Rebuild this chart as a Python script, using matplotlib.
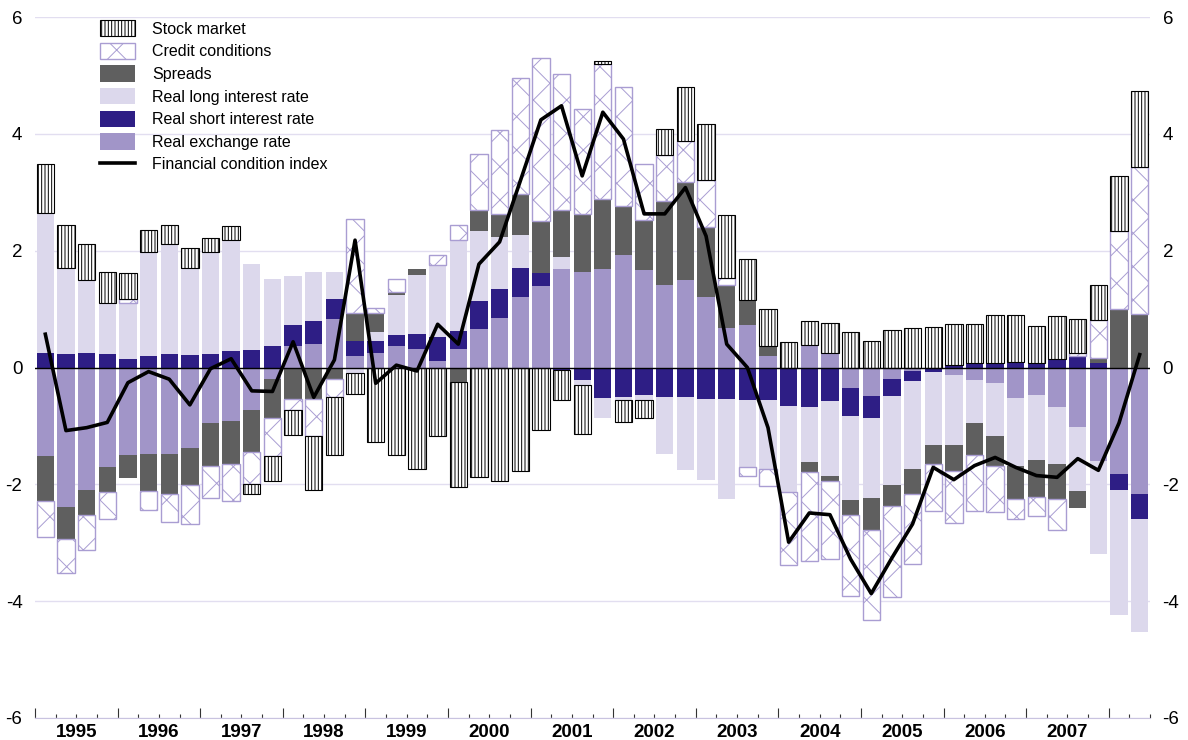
import matplotlib
matplotlib.use("Agg")
import matplotlib.pyplot as plt
import matplotlib.transforms as mtransforms
from matplotlib.patches import Patch
from matplotlib.lines import Line2D
import numpy as np

# Data: quarterly, 1995Q1 - 2008Q2
#------------------------------------------------------------------------
years = [str(y) for y in range(1995, 2008)]

exch = [-1.51, -2.38, -2.09, -1.71, -1.50, -1.48, -1.48, -1.37, -0.95, -0.91,
        -0.72, -0.20, 0.37, 0.40, 0.83, 0.20, 0.25, 0.37, 0.31, 0.11,
        0.31, 0.66, 0.84, 1.20, 1.40, 1.69, 1.64, 1.68, 1.92, 1.67,
        1.41, 1.50, 1.21, 0.67, 0.72, 0.20, 0.00, 0.39, 0.24, -0.35,
        -0.48, -0.19, -0.06, 0.00, -0.13, -0.22, -0.27, -0.53, -0.47, -0.67,
        -1.01, -1.60, -1.82, -2.17]
short = [0.25, 0.23, 0.25, 0.23, 0.15, 0.20, 0.23, 0.21, 0.23, 0.28,
         0.30, 0.36, 0.35, 0.40, 0.34, 0.26, 0.21, 0.19, 0.27, 0.42,
         0.32, 0.47, 0.50, 0.51, 0.22, -0.04, -0.21, -0.53, -0.50, -0.47,
         -0.51, -0.50, -0.54, -0.54, -0.55, -0.55, -0.66, -0.67, -0.57, -0.48,
         -0.39, -0.30, -0.17, -0.07, 0.04, 0.07, 0.07, 0.09, 0.07, 0.15,
         0.19, 0.07, -0.27, -0.42]
long_rate = [2.40, 1.48, 1.24, 0.87, 0.95, 1.78, 1.88, 1.50, 1.75, 1.90,
             1.48, 1.16, 0.84, 0.84, 0.46, -0.10, 0.15, 0.68, 1.00, 1.22,
             1.56, 1.21, 0.89, 0.56, 0.00, 0.21, -0.09, -0.34, -0.06, -0.08,
             -0.97, -1.25, -1.38, -1.71, -1.16, -1.18, -1.47, -0.95, -1.28, -1.44,
             -1.37, -1.52, -1.50, -1.25, -1.19, -0.73, -0.91, -1.16, -1.12, -0.98,
             -1.11, -1.59, -2.14, -1.93]
spreads = [-0.77, -0.56, -0.44, -0.42, -0.39, -0.64, -0.69, -0.64, -0.73, -0.74,
           -0.72, -0.67, -0.54, -0.54, -0.20, 0.48, 0.32, 0.06, 0.10, 0.00,
           -0.25, 0.35, 0.39, 0.70, 0.88, 0.80, 0.98, 1.21, 0.85, 0.85,
           1.44, 1.68, 1.19, 0.75, 0.44, 0.17, 0.00, -0.17, -0.09, -0.25,
           -0.54, -0.36, -0.43, -0.34, -0.46, -0.54, -0.50, -0.56, -0.62, -0.60,
           -0.29, 0.09, 1.00, 0.91]
credit = [-0.63, -0.58, -0.59, -0.46, 0.08, -0.32, -0.48, -0.67, -0.55, -0.64,
          -0.56, -0.64, -0.18, -0.64, -0.30, 1.60, 0.09, 0.22, 0.00, 0.17,
          0.25, 0.97, 1.45, 1.98, 2.80, 2.33, 1.81, 2.31, 2.04, 0.97,
          0.78, 0.70, 0.81, 0.12, -0.15, -0.30, -1.25, -1.52, -1.34, -1.40,
          -1.55, -1.56, -1.20, -0.79, -0.89, -0.97, -0.80, -0.34, -0.34, -0.54,
          0.06, 0.65, 1.34, 2.53]
stock = [0.84, 0.73, 0.62, 0.54, 0.44, 0.38, 0.33, 0.34, 0.23, 0.25,
         -0.17, -0.43, -0.43, -0.92, -1.00, -0.35, -1.28, -1.50, -1.73, -1.18,
         -1.79, -1.88, -1.95, -1.77, -1.07, -0.51, -0.84, 0.04, -0.37, -0.31,
         0.46, 0.92, 0.95, 1.07, 0.69, 0.63, 0.43, 0.41, 0.52, 0.61,
         0.46, 0.64, 0.67, 0.70, 0.71, 0.67, 0.83, 0.81, 0.64, 0.73,
         0.58, 0.60, 0.93, 1.30]
fci = [0.57, -1.08, -1.03, -0.94, -0.26, -0.07, -0.20, -0.64, -0.02, 0.15,
       -0.40, -0.41, 0.44, -0.51, 0.13, 2.18, -0.27, 0.04, -0.06, 0.74,
       0.40, 1.77, 2.15, 3.19, 4.24, 4.48, 3.28, 4.37, 3.91, 2.63,
       2.63, 3.08, 2.25, 0.40, 0.00, -1.03, -2.99, -2.49, -2.52, -3.28,
       -3.87, -3.26, -2.68, -1.71, -1.92, -1.68, -1.54, -1.71, -1.85, -1.88,
       -1.56, -1.76, -0.95, 0.22]

# Styles
#------------------------------------------------------------------------
plt.rcParams['font.family'] = ['Liberation Sans', 'DejaVu Sans']
plt.rcParams['axes.unicode_minus'] = False
plt.rcParams['hatch.linewidth'] = 0.7

c_exch = '#a195c8'
c_short = '#2e1e85'
c_long = '#dcd8ec'
c_spread = '#5f5f5f'
c_credit = '#a99dd2'

series = [
    (exch, dict(color=c_exch, linewidth=0)),
    (short, dict(color=c_short, linewidth=0)),
    (long_rate, dict(color=c_long, linewidth=0)),
    (spreads, dict(color=c_spread, linewidth=0)),
    (credit, dict(facecolor='white', edgecolor=c_credit, hatch='x', linewidth=1.0)),
    (stock, dict(facecolor='white', edgecolor='black', hatch='|||||', linewidth=0.8)),
]

fig = plt.figure(figsize=(11.88, 7.40), dpi=100)
ax = fig.add_axes([35 / 1188, 22 / 740, 1115 / 1188, 701 / 740])

n = len(fci)
x = np.arange(n)
pos_b = np.zeros(n)
neg_b = np.zeros(n)
width = 0.84

for vals, style in series:
    v = np.array(vals)
    bottom = np.where(v >= 0, pos_b, neg_b)
    m = v != 0
    ax.bar(x[m], v[m], width, bottom=bottom[m], zorder=2, **style)
    pos_b += np.where(v > 0, v, 0)
    neg_b += np.where(v < 0, v, 0)

ax.axhline(0, color='black', linewidth=1.0, zorder=3)
ax.plot(x, fci, color='black', linewidth=2.6, zorder=4)

# Axes
ax.set_xlim(-0.5, n - 0.5)
ax.set_ylim(-6, 6)
ax.set_yticks(range(-6, 7, 2))
ax.yaxis.grid(True, color='#e2def0', linewidth=1.0)
ax.set_axisbelow(True)
ax.tick_params(axis='y', length=0, labelsize=13.5, labelleft=True, labelright=True, pad=9)

ax.set_xticks(np.arange(-0.5, n, 4))
ax.set_xticks(np.arange(-0.5, n, 1), minor=True)
ax.tick_params(axis='x', which='major', direction='in', length=7, width=0.8,
               color='#333333', labelbottom=False)
ax.tick_params(axis='x', which='minor', direction='in', length=3, width=0.8,
               color='#333333')

for s in ['top', 'left', 'right']:
    ax.spines[s].set_visible(False)
ax.spines['bottom'].set_color('#c9c3e0')

trans = mtransforms.blended_transform_factory(ax.transData, ax.transAxes)
for k, yr in enumerate(years):
    ax.text(1.5 + 4 * k, -0.008, yr, transform=trans, ha='center', va='top',
            fontsize=13.5, fontweight='bold')

# Legend
handles = [
    Patch(facecolor='white', edgecolor='black', hatch='|||||', linewidth=0.8),
    Patch(facecolor='white', edgecolor=c_credit, hatch='x', linewidth=1.0),
    Patch(facecolor=c_spread, linewidth=0),
    Patch(facecolor=c_long, linewidth=0),
    Patch(facecolor=c_short, linewidth=0),
    Patch(facecolor=c_exch, linewidth=0),
    Line2D([], [], color='black', linewidth=2.6),
]
labels = ['Stock market', 'Credit conditions', 'Spreads', 'Real long interest rate',
          'Real short interest rate', 'Real exchange rate', 'Financial condition index']
fig.legend(handles, labels, loc='upper left', bbox_to_anchor=(100 / 1188, 1 - 20 / 740),
           frameon=False, fontsize=11.5, handlelength=2.2, handleheight=1.2,
           handletextpad=1.05, labelspacing=0.38, borderpad=0, borderaxespad=0)

fig.savefig('out.png', dpi=100)
